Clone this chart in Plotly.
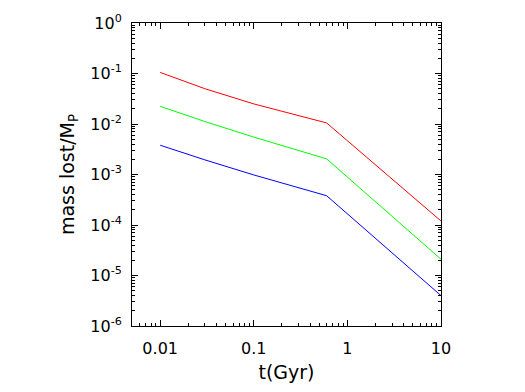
import plotly.graph_objects as go

t = [0.01, 0.03, 0.1, 0.3, 0.6, 10]
red = [0.105, 0.050, 0.025, 0.0145, 0.0105, 1.2e-4]
green = [0.0224, 0.0112, 0.0055, 0.0030, 0.00204, 2.1e-5]
blue = [0.0038, 0.00195, 9.8e-4, 5.4e-4, 3.8e-4, 4.0e-6]

x_tickvals = [0.01, 0.1, 1, 10]
x_ticktext = ["0.01", "0.1", "1", "10"]
y_tickvals = [1e-6, 1e-5, 1e-4, 1e-3, 1e-2, 1e-1, 1]
y_ticktext = ["10<sup>-6</sup>", "10<sup>-5</sup>", "10<sup>-4</sup>", "10<sup>-3</sup>",
              "10<sup>-2</sup>", "10<sup>-1</sup>", "10<sup>0</sup>"]

fig = go.Figure()
for ys, c in [(red, "#ff0000"), (green, "#00ff00"), (blue, "#0000ff")]:
    fig.add_trace(go.Scatter(x=t, y=ys, mode="lines", line=dict(color=c, width=1),
                             showlegend=False))

axis_common = dict(showgrid=False, zeroline=False, showline=True, linecolor="black",
                   linewidth=1, mirror="allticks", ticks="inside", ticklen=6,
                   tickcolor="black", tickwidth=1,
                   minor=dict(ticks="inside", ticklen=3, tickcolor="black", dtick="D1", showgrid=False))

fig.update_xaxes(type="log", range=[-2.301, 1], tickvals=x_tickvals, ticktext=x_ticktext,
                 title=dict(text="t(Gyr)", standoff=8), ticklabelstandoff=8, **axis_common)
fig.update_yaxes(type="log", range=[-6, 0], tickvals=y_tickvals, ticktext=y_ticktext,
                 title=dict(text="mass lost/M<sub>P</sub>", standoff=10), ticklabelstandoff=6,
                 **axis_common)

fig.update_layout(width=525, height=392, margin=dict(l=132, r=84, t=22, b=62),
                  paper_bgcolor="white", plot_bgcolor="white",
                  font=dict(family="DejaVu Sans", size=16, color="black"))

fig.write_html("out.html")
